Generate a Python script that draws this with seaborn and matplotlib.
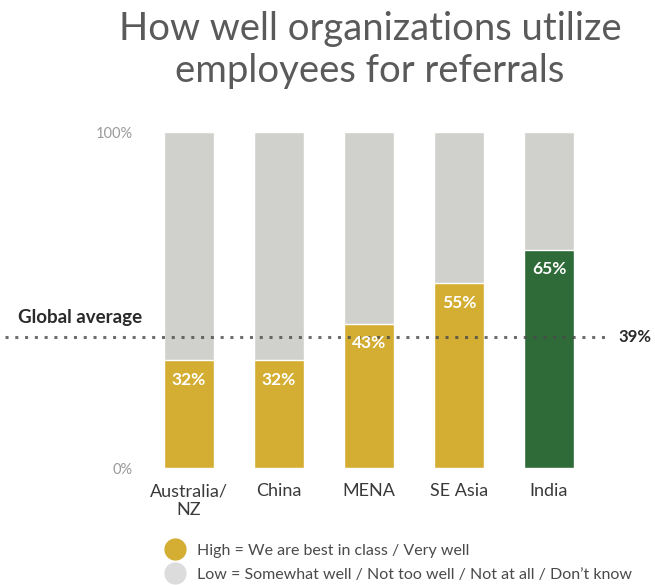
import matplotlib
matplotlib.use("Agg")
import matplotlib.pyplot as plt
from matplotlib.lines import Line2D
import seaborn as sns
import pandas as pd

# Survey results by region
regions = ["Australia/\nNZ", "China", "MENA", "SE Asia", "India"]
high_pct = [32, 32, 43, 55, 65]
global_avg = 39
legend_labels = [
    "High = We are best in class / Very well",
    "Low = Somewhat well / Not too well / Not at all / Don\u2019t know",
]

GOLD = "#D4AE33"
GREY = "#D0D0CD"
GREEN = "#2E6B38"
LEGEND_GREY = "#DCDCDC"

sns.set_theme(style="white")
plt.rcParams["font.family"] = ["Lato", "DejaVu Sans"]

df = pd.DataFrame({"region": regions, "high": high_pct})
df["total"] = 100

fig = plt.figure(figsize=(6.55, 5.85), dpi=100)
ax = fig.add_axes([140 / 655, 1 - 468 / 585, 460 / 655, 336 / 585])

# Background (full) bars, then the "high" share on top
sns.barplot(data=df, x="region", y="total", color=GREY, width=0.55,
            saturation=1, ax=ax, zorder=1)
high_colors = [GREEN if r == "India" else GOLD for r in regions]
sns.barplot(data=df, x="region", y="high", hue="region", palette=high_colors,
            width=0.55, saturation=1, legend=False, ax=ax, zorder=2)

for i, v in enumerate(high_pct):
    ax.text(i, v - 3.5, f"{v}%", ha="center", va="top", color="white",
            fontsize=12.5, fontweight="bold", zorder=4)

ax.set_xlim(-0.544, 4.567)
ax.set_ylim(0, 100)
ax.set_xlabel("")
ax.set_ylabel("")
ax.set_yticks([0, 100])
ax.set_yticklabels(["0%", "100%"], color="#9A9A9A", fontsize=10.5)
ax.tick_params(axis="y", length=0, pad=5)
ax.tick_params(axis="x", length=0, pad=11, labelsize=13, labelcolor="#3A3A3A")
for s in ax.spines.values():
    s.set_visible(False)

# Global average reference line across the whole figure width
ax.plot([-2.04, 4.66], [global_avg, global_avg], linestyle=(0, (1, 2.2)),
        color="#4A4A4A", linewidth=2.2, alpha=0.8, clip_on=False, zorder=3)
ax.text(-1.9, global_avg + 3.3, "Global average", ha="left", va="bottom",
        fontsize=13.5, fontweight="bold", color="#2A2A2A")
ax.text(4.77, global_avg, f"{global_avg}%", ha="left", va="center",
        fontsize=12, fontweight="bold", color="#2A2A2A")

fig.text(370 / 655, 1 - 50 / 585, "How well organizations utilize\nemployees for referrals",
         ha="center", va="center", fontsize=27.5, color="#5A5A5A",
         linespacing=1.2)

handles = [
    Line2D([], [], marker="o", linestyle="", markersize=15,
           markerfacecolor=GOLD, markeredgecolor=GOLD),
    Line2D([], [], marker="o", linestyle="", markersize=15,
           markerfacecolor=LEGEND_GREY, markeredgecolor=LEGEND_GREY),
]
fig.legend(handles, legend_labels, loc="upper left",
           bbox_to_anchor=(159 / 655, 1 - 537 / 585), frameon=False,
           fontsize=11.5, labelcolor="#4A4A4A", handletextpad=0.8,
           labelspacing=0.62, borderaxespad=0, handlelength=1.2)

fig.savefig("out.png", dpi=100, facecolor="white")
